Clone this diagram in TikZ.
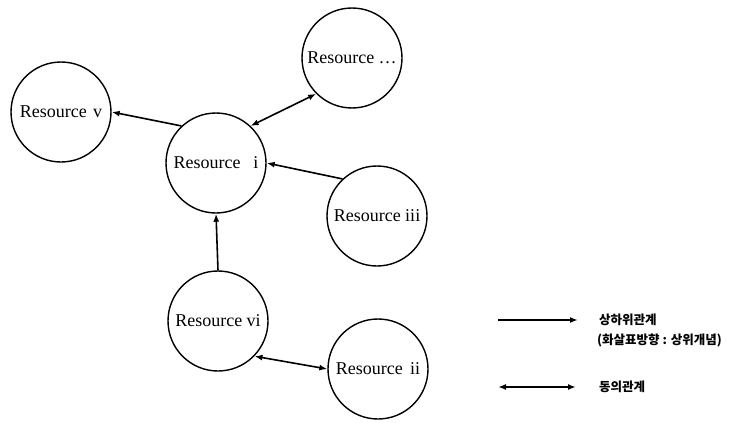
\documentclass[tikz,border=0pt]{standalone}
\usepackage{fontspec}
\setmainfont{Liberation Serif}
\newfontfamily\kr{Noto Sans CJK KR}
\usetikzlibrary{arrows.meta}
\begin{document}
\begin{tikzpicture}[x=1pt,y=-1pt,
  res/.style={circle,draw,line width=1.4pt,minimum size=100pt,inner sep=0pt,font=\fontsize{18}{20}\selectfont},
  tip/.tip={Latex[length=8pt,width=6pt]},
  rel/.style={line width=1.6pt,-tip},
  syn/.style={line width=1.6pt,tip-tip},
  leg/.style={anchor=west,inner sep=0pt,font=\kr\bfseries\fontsize{12.5}{14}\selectfont}]
\useasboundingbox (0,0) rectangle (750,423);
\node[res] (v)   at (61,112)  {Resource\hspace{0.35em}v};
\node[res] (dots) at (352,58) {Resource \dots};
\node[res] (i)   at (216,163) {Resource\hspace{0.7em}i};
\node[res] (iii) at (377,216) {Resource iii};
\node[res] (vi)  at (218,321) {Resource vi};
\node[res] (ii)  at (378,369) {Resource\hspace{0.4em}ii};
\draw[rel] (i.133) -- (v.0);
\draw[syn] (dots.225) -- (i.47);
\draw[rel] (iii.133) -- (i.0);
\draw[rel] (vi.90) -- (i.270);
\draw[syn] (vi.-44) -- (ii.180);
% legend
\coordinate (a1) at (498,320);
\coordinate (b1) at (578,320);
\coordinate (a2) at (498,387);
\coordinate (b2) at (576,387);
\draw[rel,line width=1.8pt] (a1) -- (b1);
\draw[syn,line width=1.8pt] (a2) -- (b2);
\node[leg] (l1) at (599,320) {상하위관계};
\node[leg] (l2) at (597,340) {(화살표방향 : 상위개념)};
\node[leg] (l3) at (599,387) {동의관계};
\end{tikzpicture}
\end{document}
